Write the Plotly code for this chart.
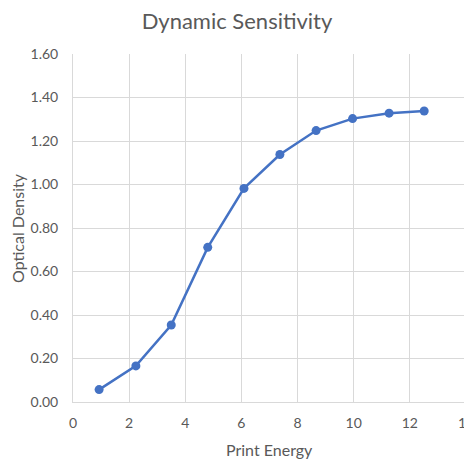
import plotly.graph_objects as go

print_energy = [0.93, 2.24, 3.50, 4.80, 6.09, 7.37, 8.66, 9.96, 11.26, 12.51]
optical_density = [0.057, 0.166, 0.354, 0.711, 0.982, 1.138, 1.248, 1.303, 1.328, 1.338]

x_ticks = [0, 2, 4, 6, 8, 10, 12, 14]
y_ticks = [0.0, 0.2, 0.4, 0.6, 0.8, 1.0, 1.2, 1.4, 1.6]

font_family = "Lato, 'Open Sans', sans-serif"
text_color = "#595959"
grid_color = "#D9D9D9"

# page body adds an 8px offset, so the figure is sized to the visible area
W, H = 464, 452
ML, MR, MT, MB = 65, 6, 46, 58
OFF = 8

fig = go.Figure(
    go.Scatter(
        x=print_energy,
        y=optical_density,
        mode="lines+markers",
        line=dict(color="#4472C4", width=2.5),
        marker=dict(color="#4472C4", size=9),
    )
)

fig.update_layout(
    width=W,
    height=H,
    margin=dict(l=ML, r=MR, t=MT, b=MB, autoexpand=False),
    paper_bgcolor="white",
    plot_bgcolor="white",
    showlegend=False,
    title=dict(
        text="Dynamic Sensitivity",
        x=(237 - OFF) / W,
        xref="container",
        xanchor="center",
        y=1 - (21 - OFF) / H,
        yref="container",
        yanchor="middle",
        font=dict(family=font_family, size=22, color=text_color),
    ),
    font=dict(family=font_family, size=14, color=text_color),
)

fig.update_xaxes(
    range=[0, 14],
    tickvals=x_ticks,
    ticktext=[str(v) for v in x_ticks],
    showgrid=True,
    gridcolor=grid_color,
    gridwidth=1,
    showline=True,
    linecolor=grid_color,
    linewidth=1,
    zeroline=False,
    automargin=False,
    ticks="outside",
    ticklen=8,
    tickcolor="rgba(0,0,0,0)",
    ticklabeloverflow="allow",
    tickfont=dict(family=font_family, size=14, color=text_color),
)

fig.update_yaxes(
    range=[0, 1.6],
    tickvals=y_ticks,
    ticktext=[f"{v:.2f}" for v in y_ticks],
    showgrid=True,
    gridcolor=grid_color,
    gridwidth=1,
    showline=True,
    linecolor=grid_color,
    linewidth=1,
    zeroline=False,
    automargin=False,
    ticks="outside",
    ticklen=11,
    tickcolor="rgba(0,0,0,0)",
    tickfont=dict(family=font_family, size=14, color=text_color),
)

fig.add_shape(type="line", xref="paper", yref="paper", x0=1, x1=1, y0=0, y1=1,
              line=dict(color=grid_color, width=1))

fig.add_annotation(
    text="Print Energy", xref="paper", yref="paper",
    x=0.5, y=-((449 - OFF) - (H - MB)) / (H - MT - MB),
    xanchor="center", yanchor="middle", showarrow=False,
    font=dict(family=font_family, size=16, color=text_color),
)
fig.add_annotation(
    text="Optical Density", xref="paper", yref="paper",
    x=-(ML - (17 - OFF)) / (W - ML - MR), y=0.5, textangle=-90,
    xanchor="center", yanchor="middle", showarrow=False,
    font=dict(family=font_family, size=16, color=text_color),
)

fig.write_html("out.html")
